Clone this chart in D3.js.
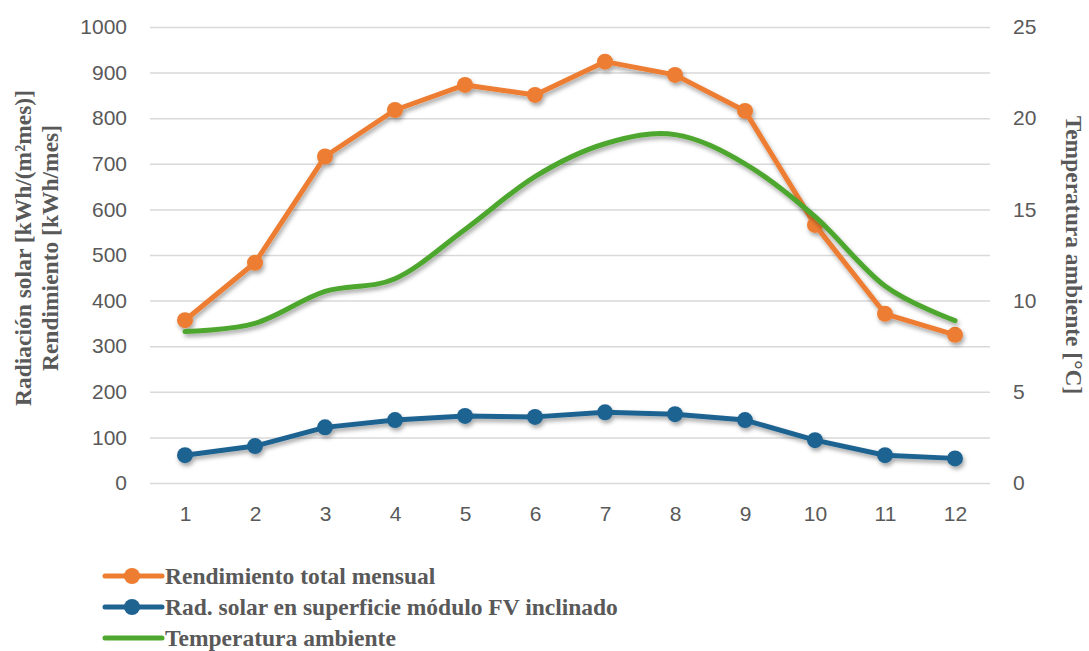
<!DOCTYPE html>
<html>
<head>
<meta charset="utf-8">
<script src="https://cdn.jsdelivr.net/npm/d3@7"></script>
<style>
  body { margin: 0; background: #fff; }
  svg { display: block; }
</style>
</head>
<body>
<div id="chart"></div>
<script>
// months on the x axis
const months = [1, 2, 3, 4, 5, 6, 7, 8, 9, 10, 11, 12];

// Rendimiento total mensual [kWh/mes]
const rendimiento = [357, 483, 716, 818, 873, 851, 924, 895, 816, 566, 371, 325];
// Rad. solar en superficie módulo FV inclinado [kWh/(m²mes)]
const radSolar = [61, 81, 122, 138, 147, 145, 155, 151, 138, 94, 61, 54];
// Temperatura ambiente [°C] (right axis)
const temperatura = [8.3, 8.75, 10.5, 11.2, 13.9, 16.8, 18.6, 19.1, 17.5, 14.6, 10.8, 8.9];

const leftTicks = [0, 100, 200, 300, 400, 500, 600, 700, 800, 900, 1000];
const rightTicks = [0, 5, 10, 15, 20, 25];

const w = 1089;
const h = 651;
const plot = { left: 150, right: 990, top: 27, bottom: 483 };

const svg = d3.select("#chart")
  .append("svg")
  .attr("width", w)
  .attr("height", h);

// soft drop shadow like the original
const defs = svg.append("defs");
defs.append("filter")
    .attr("id", "shadow")
    .attr("x", "-10%").attr("y", "-10%")
    .attr("width", "120%").attr("height", "130%")
  .append("feDropShadow")
    .attr("dx", 1.5)
    .attr("dy", 3)
    .attr("stdDeviation", 2)
    .attr("flood-color", "#000")
    .attr("flood-opacity", 0.35);

const x = d3.scalePoint()
  .domain(months)
  .range([plot.left, plot.right])
  .padding(0.5);

const yLeft = d3.scaleLinear()
  .domain([0, 1000])
  .range([plot.bottom, plot.top]);

const yRight = d3.scaleLinear()
  .domain([0, 25])
  .range([plot.bottom, plot.top]);

// gridlines
const grid = d3.axisLeft(yLeft)
  .tickValues(leftTicks)
  .tickSize(-(plot.right - plot.left))
  .tickFormat("");

svg.append("g")
  .attr("transform", `translate(${plot.left},0)`)
  .call(grid)
  .call(g => g.select(".domain").remove())
  .call(g => g.selectAll("line").attr("stroke", "#d9d9d9").attr("stroke-width", 1.5));

const labelFont = "'Liberation Sans', Arial, sans-serif";
const titleFont = "'Liberation Serif', 'Times New Roman', serif";
const textColor = "#595959";

// left axis
svg.append("g")
  .attr("transform", `translate(${plot.left},0)`)
  .call(d3.axisLeft(yLeft).tickValues(leftTicks).tickSize(0).tickPadding(23).tickFormat(d3.format("d")))
  .call(g => g.select(".domain").remove())
  .call(g => g.selectAll("text")
    .attr("fill", textColor)
    .style("font-family", labelFont)
    .style("font-size", "21px"));

// right axis
svg.append("g")
  .attr("transform", `translate(${plot.right},0)`)
  .call(d3.axisRight(yRight).tickValues(rightTicks).tickSize(0).tickPadding(23))
  .call(g => g.select(".domain").remove())
  .call(g => g.selectAll("text")
    .attr("fill", textColor)
    .style("font-family", labelFont)
    .style("font-size", "21px"));

// x axis
svg.append("g")
  .attr("transform", `translate(0,${plot.bottom})`)
  .call(d3.axisBottom(x).tickSize(0).tickPadding(23))
  .call(g => g.select(".domain").remove())
  .call(g => g.selectAll("text")
    .attr("fill", textColor)
    .style("font-family", labelFont)
    .style("font-size", "21px"));

// axis titles
const leftTitle = svg.append("text")
  .attr("transform", "translate(31,248) rotate(-90)")
  .attr("text-anchor", "middle")
  .attr("fill", textColor)
  .style("font-family", titleFont)
  .style("font-weight", "bold")
  .style("font-size", "23.5px");
leftTitle.append("tspan").attr("x", 0).attr("dy", 0).text("Radiación solar [kWh/(m²mes)]");
leftTitle.append("tspan").attr("x", 0).attr("dy", 27).text("Rendimiento [kWh/mes]");

svg.append("text")
  .attr("transform", "translate(1066,255) rotate(90)")
  .attr("text-anchor", "middle")
  .attr("fill", textColor)
  .style("font-family", titleFont)
  .style("font-weight", "bold")
  .style("font-size", "23.5px")
  .text("Temperatura ambiente [°C]");

const series = [
  { name: "Rendimiento total mensual", values: rendimiento, color: "#ED7D31", scale: yLeft, markers: true, curve: d3.curveLinear },
  { name: "Rad. solar en superficie módulo FV inclinado", values: radSolar, color: "#1F6391", scale: yLeft, markers: true, curve: d3.curveLinear },
  { name: "Temperatura ambiente", values: temperatura, color: "#4EA72E", scale: yRight, markers: false, curve: d3.curveCardinal.tension(0) }
];

// green sits above orange near month 10
const drawOrder = [series[1], series[0], series[2]];

drawOrder.forEach(s => {
  const g = svg.append("g").attr("filter", "url(#shadow)");
  const line = d3.line()
    .x((d, i) => x(months[i]))
    .y(d => s.scale(d))
    .curve(s.curve);

  g.append("path")
    .datum(s.values)
    .attr("d", line)
    .attr("fill", "none")
    .attr("stroke", s.color)
    .attr("stroke-width", 5)
    .attr("stroke-linejoin", "round")
    .attr("stroke-linecap", "round");

  if (s.markers) {
    g.selectAll("circle")
      .data(s.values)
      .join("circle")
      .attr("cx", (d, i) => x(months[i]))
      .attr("cy", d => s.scale(d))
      .attr("r", 8)
      .attr("fill", s.color);
  }
});

// legend
const legend = svg.append("g");
series.forEach((s, i) => {
  const ly = 576 + i * 31;
  legend.append("line")
    .attr("x1", 105).attr("x2", 162)
    .attr("y1", ly).attr("y2", ly)
    .attr("stroke", s.color)
    .attr("stroke-width", 5)
    .attr("stroke-linecap", "round");
  if (s.markers) {
    legend.append("circle")
      .attr("cx", 132).attr("cy", ly)
      .attr("r", 8)
      .attr("fill", s.color);
  }
  legend.append("text")
    .attr("x", 165)
    .attr("y", ly + 8)
    .attr("fill", textColor)
    .style("font-family", titleFont)
    .style("font-weight", "bold")
    .style("font-size", "23.5px")
    .text(s.name);
});
</script>
</body>
</html>
